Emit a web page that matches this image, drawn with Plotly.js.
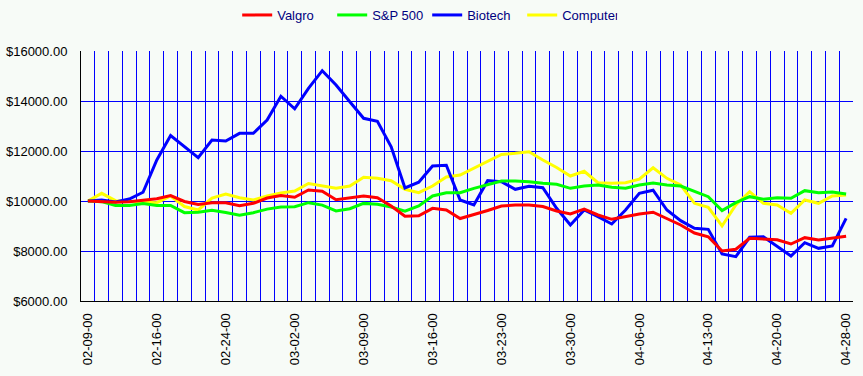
<!DOCTYPE html>
<html>
<head>
<meta charset="utf-8">
<script src="https://cdn.plot.ly/plotly-3.0.1.min.js"></script>
<style>
html,body{margin:0;padding:0;background:#F7FBF7;}
#chart{width:863px;height:376px;}
#chart .gridlayer path, #chart .minor-gridlayer path {shape-rendering: crispEdges !important;}
</style>
</head>
<body>
<div id="chart"></div>
<script>
var dates = ["02-09-00","02-10-00","02-11-00","02-14-00","02-15-00","02-16-00","02-17-00","02-18-00","02-22-00","02-23-00",
"02-24-00","02-25-00","02-28-00","02-29-00","03-01-00","03-02-00","03-03-00","03-06-00","03-07-00","03-08-00",
"03-09-00","03-10-00","03-13-00","03-14-00","03-15-00","03-16-00","03-17-00","03-20-00","03-21-00","03-22-00",
"03-23-00","03-24-00","03-27-00","03-28-00","03-29-00","03-30-00","03-31-00","04-03-00","04-04-00","04-05-00",
"04-06-00","04-07-00","04-10-00","04-11-00","04-12-00","04-13-00","04-14-00","04-17-00","04-18-00","04-19-00",
"04-20-00","04-24-00","04-25-00","04-26-00","04-27-00","04-28-00"];

var tickLabels = ["02-09-00","02-16-00","02-24-00","03-02-00","03-09-00","03-16-00","03-23-00","03-30-00","04-06-00","04-13-00","04-20-00","04-28-00"];

var valgro = [10000,9973,9947,9973,10020,10090,10220,9980,9860,9933,
9933,9810,9907,10120,10220,10147,10440,10390,10050,10120,
10200,10130,9800,9390,9410,9707,9640,9300,9450,9620,
9800,9840,9840,9780,9600,9480,9680,9440,9267,9373,
9480,9550,9307,9040,8720,8570,8000,8070,8507,8470,
8450,8280,8533,8440,8507,8590];

var sp500 = [10000,9973,9820,9820,9900,9820,9820,9533,9550,9630,
9540,9435,9530,9675,9760,9770,9933,9835,9605,9690,
9905,9867,9760,9590,9800,10200,10333,10333,10507,10667,
10800,10800,10773,10707,10667,10507,10600,10640,10547,10507,
10640,10720,10640,10600,10373,10173,9613,9933,10173,10067,
10133,10107,10413,10333,10360,10280];

var biotech = [10000,10040,9960,10080,10350,11640,12620,12170,11733,12440,
12400,12707,12707,13240,14190,13690,14507,15213,14640,13973,
13307,13190,12170,10520,10750,11400,11430,10040,9840,10813,
10773,10467,10590,10530,9707,9040,9640,9373,9080,9640,
10307,10430,9640,9213,8907,8867,7880,7773,8547,8573,
8173,7800,8333,8107,8200,9307];

var computer = [10000,10307,10013,9980,9973,9933,10200,9780,9640,10120,
10280,10130,10040,10200,10320,10400,10700,10600,10507,10600,
10947,10907,10813,10467,10333,10600,10960,11040,11307,11590,
11860,11907,11973,11640,11340,11000,11190,10733,10707,10733,
10870,11330,10907,10640,9907,9747,9000,9840,10373,9907,
9840,9507,10040,9907,10200,10240];

var seriesNames = ["Valgro","S&P 500","Biotech","Computer"];
var seriesColors = ["#FF0000","#00FF00","#0000FF","#FFFF00"];
var seriesValues = [valgro, sp500, biotech, computer];

// trading-day positions on a linear axis (one unit per trading day)
var dayIndex = dates.map(function(d, i){ return i; });

var traces = [];
for (var k = seriesValues.length - 1; k >= 0; k--) {
  traces.push({
    type: "scatter",
    mode: "lines",
    name: seriesNames[k],
    x: dayIndex,
    y: seriesValues[k],
    line: {color: seriesColors[k], width: 3},
    hoverinfo: "skip"
  });
}

var labelPos = tickLabels.map(function(t){ return dates.indexOf(t); });

var layout = {
  width: 863, height: 376,
  paper_bgcolor: "#F7FBF7",
  plot_bgcolor: "#F7FBF7",
  margin: {l: 81, r: 10, t: 51, b: 75},
  font: {family: "Liberation Sans, Arial, sans-serif", size: 13, color: "#000000"},
  showlegend: true,
  legend: {
    orientation: "h",
    traceorder: "reversed",
    x: 0.495, xanchor: "center", xref: "container",
    y: 1, yanchor: "top", yref: "container",
    font: {color: "#000080", size: 13},
    bgcolor: "rgba(0,0,0,0)",
    entrywidth: 50,
    itemwidth: 30
  },
  xaxis: {
    type: "linear",
    tickmode: "array",
    tickvals: labelPos,
    ticktext: tickLabels,
    tickangle: -90,
    range: [-0.5, dates.length - 0.5],
    showgrid: false,
    minor: {tick0: -0.5, dtick: 1, showgrid: true, gridcolor: "#0000FF", gridwidth: 1, ticks: ""},
    ticks: "",
    ticklabelstandoff: 6,
    showline: true,
    linecolor: "#000000",
    linewidth: 1,
    zeroline: false,
    fixedrange: true
  },
  yaxis: {
    range: [6000, 16000],
    tick0: 6000,
    dtick: 2000,
    tickprefix: "$",
    tickformat: ".2f",
    showgrid: true,
    gridcolor: "#0000FF",
    gridwidth: 1,
    ticks: "",
    ticklabelstandoff: 10,
    showline: true,
    linecolor: "#000000",
    linewidth: 1,
    zeroline: false,
    fixedrange: true
  }
};

Plotly.newPlot("chart", traces, layout, {displayModeBar: false, staticPlot: true});
</script>
</body>
</html>
